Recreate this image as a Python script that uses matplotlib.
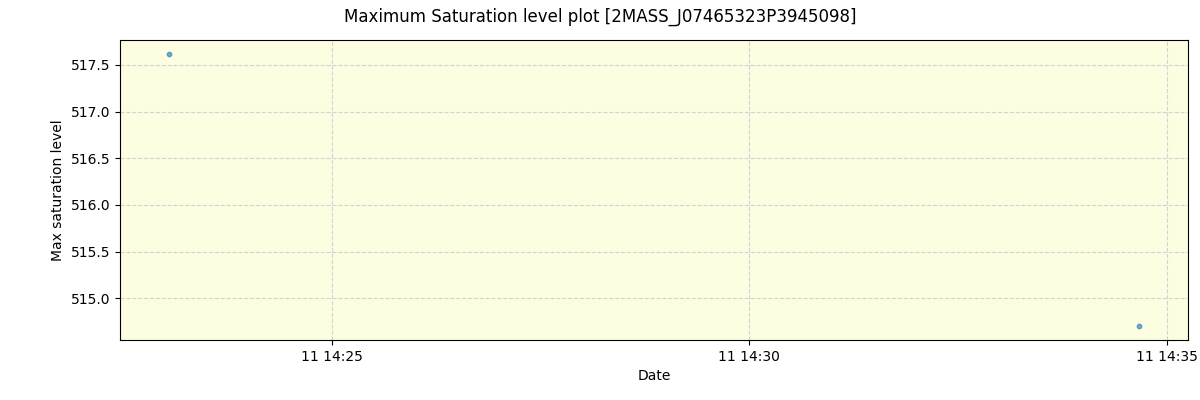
import pandas as pd
import matplotlib
matplotlib.use("Agg")
import matplotlib.pyplot as plt
import matplotlib.dates as mdates

# observation times and max saturation values
obs_times = ["2023-01-11 14:23:03", "2023-01-11 14:34:40"]
max_saturation = [517.62, 514.70]

star_name = "2MASS_J07465323P3945098"


def main():
    dates = pd.to_datetime(obs_times)

    fig, ax = plt.subplots(figsize=(12, 4), dpi=100)
    ax.set_facecolor("#fdfde1")
    ax.scatter(dates, max_saturation, s=10, alpha=0.6, color="tab:blue", zorder=3)

    ax.grid(True, linestyle="--", color="lightgray", zorder=0)
    ax.xaxis.set_major_formatter(mdates.DateFormatter("%d %H:%M"))

    ax.set_xlabel("Date")
    ax.set_ylabel("Max saturation level")
    fig.suptitle(f"Maximum Saturation level plot [{star_name}]")

    fig.subplots_adjust(left=0.1, right=0.99, top=0.9, bottom=0.15)
    fig.savefig("out.png")


if __name__ == "__main__":
    main()
